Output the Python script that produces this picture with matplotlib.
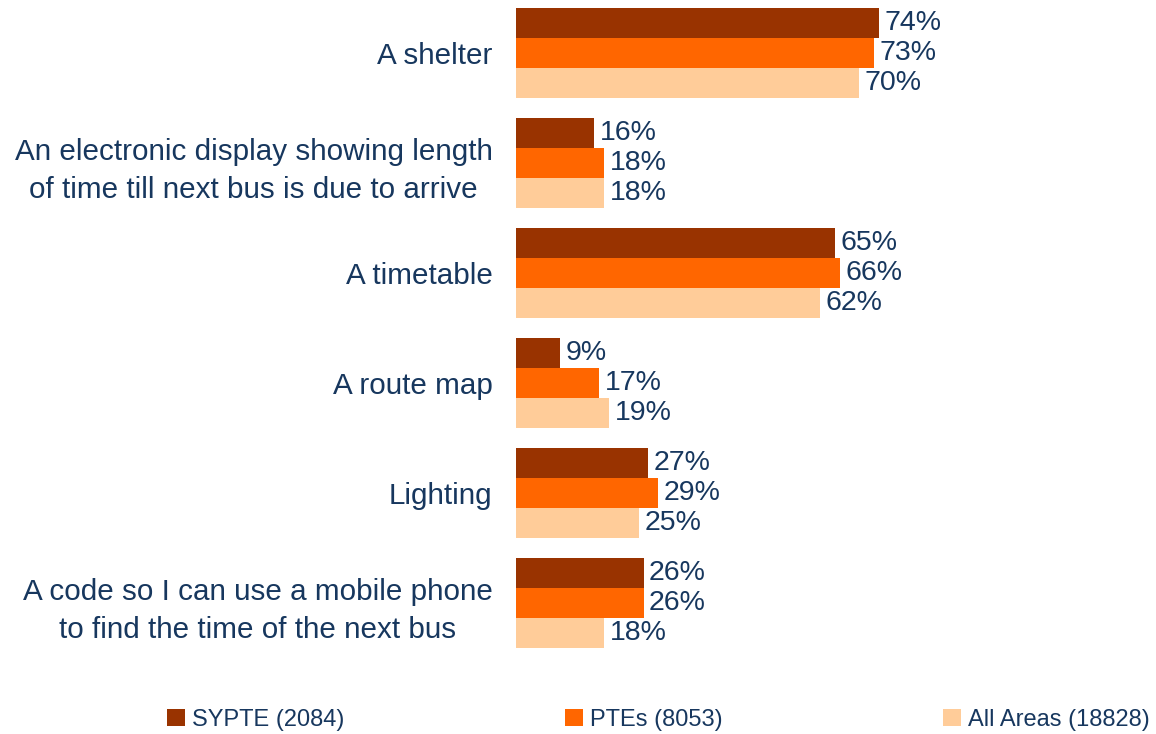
import numpy as np
import matplotlib
matplotlib.use("Agg")
import matplotlib.pyplot as plt

plt.rcParams['font.family'] = ['Liberation Sans', 'DejaVu Sans']

categories = [
    "A shelter",
    "An electronic display showing length\nof time till next bus is due to arrive",
    "A timetable",
    "A route map",
    "Lighting",
    "A code so I can use a mobile phone\nto find the time of the next bus",
]
series_names = ["SYPTE (2084)", "PTEs (8053)", "All Areas (18828)"]
sypte = [74, 16, 65, 9, 27, 26]
ptes = [73, 18, 66, 17, 29, 26]
all_areas = [70, 18, 62, 19, 25, 18]
colors = ["#993300", "#FF6600", "#FFCC99"]
text_color = "#17375E"

fig = plt.figure(figsize=(11.56, 7.34), dpi=100)
ax = fig.add_axes([516 / 1156, 1 - 652.5 / 734, 490.5 / 1156, 649 / 734])

y = np.arange(len(categories))
h = 30 / 110
for i, (vals, name) in enumerate(zip([sypte, ptes, all_areas], series_names)):
    bars = ax.barh(y + (i - 1) * h, vals, height=h, color=colors[i], label=name)
    ax.bar_label(bars, labels=[f"{v}%" for v in vals], padding=4,
                 fontsize=20.5, color=text_color)

ax.set_xlim(0, 100)
ax.set_ylim(5.45, -0.45)
ax.set_yticks(y)
ax.set_yticklabels(categories, fontsize=21.3, color=text_color,
                   multialignment="center", linespacing=1.45)
ax.tick_params(axis="y", length=0, pad=17)
ax.set_xticks([])
for s in ax.spines.values():
    s.set_visible(False)

fig.legend(loc="center left", bbox_to_anchor=(167 / 1156, 14 / 734), ncol=3,
           frameon=False, fontsize=17, labelcolor=text_color,
           handlelength=0.75, handleheight=0.75, handletextpad=0.3,
           columnspacing=9.35, borderpad=0, borderaxespad=0)

fig.savefig("out.png", dpi=100)
